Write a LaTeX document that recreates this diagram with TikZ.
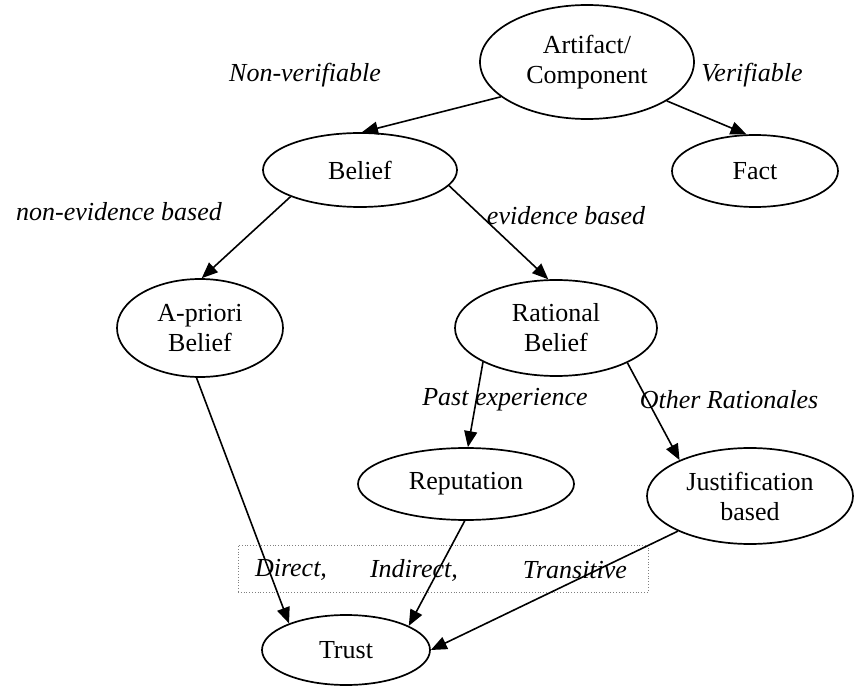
\documentclass[tikz,border=0pt]{standalone}
\usepackage{fontspec}
\setmainfont{Liberation Serif}
\usetikzlibrary{shapes.geometric,arrows.meta}
\begin{document}
\begin{tikzpicture}[x=1pt,y=-1pt,
  ell/.style={ellipse,draw,line width=1.7pt,inner sep=0pt,align=center,
    font=\fontsize{26}{30}\selectfont},
  lbl/.style={font=\fontsize{26}{30}\selectfont\itshape,inner sep=0pt},
  arr/.style={line width=1.6pt,-{Triangle[length=16pt,width=13pt]}}]
\useasboundingbox (0,0) rectangle (855,687);
\node[ell,minimum width=214pt,minimum height=114pt] (art) at (587,62) {Artifact/\\Component};
\node[ell,minimum width=166pt,minimum height=72pt] (fact) at (755,171) {Fact};
\node[ell,minimum width=194pt,minimum height=74pt] (bel) at (360,170) {Belief};
\node[ell,minimum width=166pt,minimum height=98pt] (apr) at (200,328) {A-priori\\Belief};
\node[ell,minimum width=202pt,minimum height=96pt] (rat) at (556,328) {Rational\\Belief};
\node[ell,minimum width=216pt,minimum height=72pt] (rep) at (466,484) {Reputation};
\node[ell,minimum width=206pt,minimum height=96pt] (jus) at (750,496) {Justification\\based};
\node[ell,minimum width=168pt,minimum height=70pt] (tru) at (346,650) {Trust};
\node[lbl] (l1) at (305,75) {Non-verifiable};
\node[lbl] (l2) at (752,75) {Verifiable};
\node[lbl] (l3) at (119,212) {non-evidence based};
\node[lbl] (l4) at (566,216) {evidence based};
\node[lbl] (l5) at (505,400) {Past experience};
\node[lbl] (l6) at (729,400) {Other Rationales};
\node[draw=gray,dotted,line width=0.8pt,minimum width=410pt,minimum height=47pt,inner sep=0pt] (box) at (443,568.5) {};
\node[lbl] (d1) at (291,570) {Direct,};
\node[lbl] (d2) at (414,570) {Indirect,};
\node[lbl] (d3) at (575,570) {Transitive};
\draw[arr] (art.202.6) -- (bel.87);
\draw[arr] (art.334.6) -- (fact.103);
\draw[arr] (bel.201.8) -- (apr.88);
\draw[arr] (bel.350) -- (rat.99.5);
\draw[arr] (apr.266.5) -- (tru.155);
\draw[arr] (rat.205.6) -- (rep.87);
\draw[arr] (rat.334) -- (jus.153.7);
\draw[arr] (rep.268) -- (tru.21);
\draw[arr] (jus.206.6) -- (tru.0);
\end{tikzpicture}
\end{document}
